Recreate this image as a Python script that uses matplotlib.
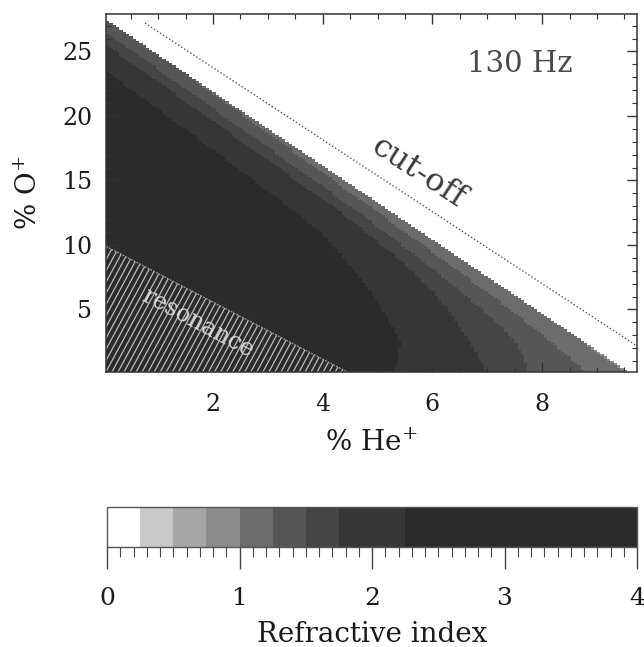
import numpy as np
import matplotlib
matplotlib.use('Agg')
import matplotlib.pyplot as plt
from matplotlib.colors import ListedColormap, BoundaryNorm
from matplotlib.patches import Polygon
from matplotlib.ticker import MultipleLocator

plt.rcParams['font.family'] = ['DejaVu Serif']
plt.rcParams['mathtext.fontset'] = 'dejavuserif'

# ---------------- values ----------------
he_range = [0.05, 9.73]        # % He+ (x extent of the map)
o_range = [0.15, 27.9]         # % O+  (y extent of the map)
x_major = [2, 4, 6, 8]
y_major = [5, 10, 15, 20, 25]
cbar_major = [0, 1, 2, 3, 4]

cutoff_he, cutoff_o = 9.66, 27.6          # intercepts of the cut-off line
resonance_he, resonance_o = 4.45, 10.0    # intercepts of the resonance line
dotted_he = [0.76, 9.73]                  # dotted reference line
dotted_o = [27.2, 2.17]

band_levels = [0, 0.25, 0.5, 0.75, 1.0, 1.25, 1.5, 1.75, 2.25, 4.0]
band_grays = ['#ffffff', '#c9c9c9', '#a6a6a6', '#8c8c8c', '#6c6c6c',
              '#565656', '#454545', '#363636', '#2b2b2b']

# refractive index read across the allowed band, as a function of the
# depth below the cut-off line (fraction of the way towards the origin)
depth = [0.0, 0.035, 0.07, 0.12, 0.2, 0.35, 0.6, 1.0]
n_upper = [1.3, 1.5, 1.75, 2.1, 2.6, 3.3, 4.0, 4.0]     # near the O+ axis
n_middle = [1.1, 1.3, 1.55, 1.9, 2.3, 2.9, 3.5, 4.0]    # middle of the line
n_lower = [0.95, 1.1, 1.2, 1.35, 1.5, 2.0, 2.6, 3.2]    # near the He+ axis

# ---------------- build the map ----------------
nx, ny = 160, 160
xe = np.linspace(he_range[0], he_range[1], nx + 1)
ye = np.linspace(o_range[0], o_range[1], ny + 1)
xc = 0.5 * (xe[1:] + xe[:-1])
yc = 0.5 * (ye[1:] + ye[:-1])
X, Y = np.meshgrid(xc, yc)
a = X / cutoff_he
b = Y / cutoff_o
u = 1 - a - b
p = a / (a + b)
uu = np.clip(u, 0, 1)
n_up = np.interp(uu, depth, n_upper)
n_mi = np.interp(uu, depth, n_middle)
n_lo = np.interp(uu, depth, n_lower)
field = np.where(p < 0.5, n_up + (n_mi - n_up) * (p / 0.5),
                 n_mi + (n_lo - n_mi) * ((p - 0.5) / 0.5))
field[u <= 0] = 0.0
in_res = X / resonance_he + Y / resonance_o < 1
field[in_res] = 3.9

cmap = ListedColormap(band_grays)
norm = BoundaryNorm(band_levels, cmap.N)

fig = plt.figure(figsize=(6.44, 6.47), dpi=100)
ax = fig.add_axes([106 / 644, 1 - 372 / 647, 531 / 644, 358 / 647])
mesh = ax.pcolormesh(xe, ye, field, cmap=cmap, norm=norm, shading='flat')

# resonance region: hatched triangle
y_left = resonance_o * (1 - he_range[0] / resonance_he)
tri = Polygon([(he_range[0], o_range[0]), (resonance_he, o_range[0]),
               (he_range[0], y_left)], closed=True, facecolor='none',
              edgecolor='none', transform=ax.transData)
ax.add_patch(tri)
slope = 7.9
for x0 in np.arange(-1.4, 4.6, 0.11):
    ln, = ax.plot([x0, x0 + 2], [0, 2 * slope], color='#bdbdbd', lw=0.9)
    ln.set_clip_path(tri)
ax.plot([he_range[0], resonance_he], [y_left, o_range[0]], color='#a0a0a0',
        lw=0.9, ls=(0, (1.5, 1)))

# dotted line
ax.plot(dotted_he, dotted_o, color='#555555', lw=1.0, ls=(0, (1, 1.6)))

ax.text(7.6, 24.0, '130 Hz', fontsize=21, color='#4a4a4a', ha='center',
        va='center')
ax.text(5.75, 15.6, 'cut-off', fontsize=23, color='#3a3a3a', ha='center',
        va='center', rotation=-33, rotation_mode='anchor')
ax.text(1.72, 3.95, 'resonance', fontsize=17, color='#d8d8d8', ha='center',
        va='center', rotation=-28, rotation_mode='anchor')

ax.set_xlim(he_range)
ax.set_ylim(o_range)
ax.set_xticks(x_major)
ax.set_yticks(y_major)
ax.xaxis.set_minor_locator(MultipleLocator(0.5))
ax.yaxis.set_minor_locator(MultipleLocator(1))
ax.tick_params(which='both', direction='in', top=True, right=True,
               color='#333333')
ax.tick_params(which='major', length=7, width=1, labelsize=17,
               labelcolor='#1a1a1a')
ax.tick_params(axis='x', which='major', pad=15)
ax.tick_params(axis='y', which='major', pad=10)
ax.tick_params(which='minor', length=3.5, width=0.8)
for s in ax.spines.values():
    s.set_color('#333333')
    s.set_linewidth(1.1)
ax.set_xlabel('% He$^{+}$', fontsize=20, labelpad=10, color='#1a1a1a')
ax.set_ylabel('% O$^{+}$', fontsize=20, labelpad=14, color='#1a1a1a')

# colour bar
cax = fig.add_axes([107 / 644, 1 - 547 / 647, 530 / 644, 40 / 647])
cb = fig.colorbar(mesh, cax=cax, orientation='horizontal',
                  spacing='proportional', ticks=cbar_major)
cb.ax.set_xticks(np.arange(0, 4.001, 0.1), minor=True)
cb.ax.tick_params(which='major', length=16, width=1, direction='out',
                  labelsize=18, pad=13, color='#444444', labelcolor='#1a1a1a')
cb.ax.tick_params(which='minor', length=7, width=0.8, direction='out',
                  color='#444444')
cb.outline.set_linewidth(1.0)
cb.outline.set_edgecolor('#555555')
cb.set_label('Refractive index', fontsize=20, labelpad=8, color='#1a1a1a')

fig.savefig('out.png', dpi=100)
